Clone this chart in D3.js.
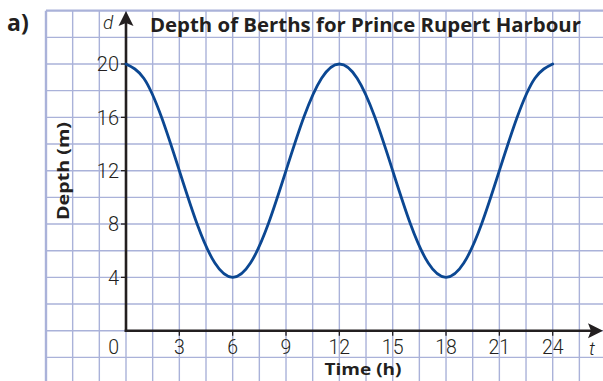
<!DOCTYPE html>
<html>
<head>
<meta charset="utf-8">
<script src="https://cdn.jsdelivr.net/npm/d3@7"></script>
<style>
  html, body { margin: 0; padding: 0; background: #fff; }
  svg { display: block; }
</style>
</head>
<body>
<svg id="chart" width="603" height="381"></svg>
<script>
// Hourly water depth readings (m) over a 24-hour day
const hours  = [0, 1, 2, 3, 4, 5, 6, 7, 8, 9, 10, 11, 12, 13, 14, 15, 16, 17, 18, 19, 20, 21, 22, 23, 24];
const depths = [20, 18.93, 16, 12, 8, 5.07, 4, 5.07, 8, 12, 16, 18.93, 20, 18.93, 16, 12, 8, 5.07, 4, 5.07, 8, 12, 16, 18.93, 20];

const xTicks = [3, 6, 9, 12, 15, 18, 21, 24];
const yTicks = [4, 8, 12, 16, 20];

const title = "Depth of Berths for Prince Rupert Harbour";

const W = 603, H = 381;
const svg = d3.select("#chart");

const x = d3.scaleLinear().domain([0, 24]).range([126, 552.7]);
const y = d3.scaleLinear().domain([0, 20]).range([330.7, 64]);

const gridColor = "#aab2d9";
const inkColor = "#231f20";
const lightFont = "Roboto, 'Open Sans', sans-serif";
const boldFont = "'Open Sans', Roboto, sans-serif";

// graph-paper grid: one square = 1.5 h by 2 m
const gridT = d3.range(-4.5, 27.01, 1.5);
const gridD = d3.range(-4, 24.01, 2);
const grid = svg.append("g");
grid.selectAll("line.v").data(gridT).join("line")
  .attr("x1", d => x(d)).attr("x2", d => x(d))
  .attr("y1", y(24)).attr("y2", H)
  .attr("stroke", gridColor)
  .attr("stroke-width", d => d === -4.5 ? 2.4 : 1.4);
grid.selectAll("line.h").data(gridD).join("line")
  .attr("y1", d => y(d)).attr("y2", d => y(d))
  .attr("x1", x(-4.5)).attr("x2", W)
  .attr("stroke", gridColor)
  .attr("stroke-width", d => d === 24 ? 2.4 : 1.4);

// axes
const axes = svg.append("g").attr("stroke", inkColor).attr("fill", "none");
axes.append("line")
  .attr("x1", x(0)).attr("x2", x(0))
  .attr("y1", y(0) + 1.4).attr("y2", 20)
  .attr("stroke-width", 2.6);
axes.append("line")
  .attr("x1", x(0) - 1.3).attr("x2", 592)
  .attr("y1", y(0)).attr("y2", y(0))
  .attr("stroke-width", 2.6);

// arrowheads
const ax0 = x(0), ay0 = y(0);
svg.append("path")
  .attr("d", `M${ax0},11 L${ax0 + 7.5},26 L${ax0},23 L${ax0 - 7.5},26 Z`)
  .attr("fill", inkColor);
svg.append("path")
  .attr("d", `M603,${ay0} L588,${ay0 - 7.5} L591,${ay0} L588,${ay0 + 7.5} Z`)
  .attr("fill", inkColor);

// tick marks
axes.selectAll("line.yt").data(yTicks).join("line")
  .attr("x1", ax0 - 5).attr("x2", ax0)
  .attr("y1", d => y(d)).attr("y2", d => y(d))
  .attr("stroke-width", 1.3);
axes.selectAll("line.xt").data(xTicks).join("line")
  .attr("x1", d => x(d)).attr("x2", d => x(d))
  .attr("y1", ay0).attr("y2", ay0 + 5)
  .attr("stroke-width", 1.3);

// tick labels
const labels = svg.append("g")
  .attr("font-family", lightFont)
  .attr("font-weight", 300)
  .attr("font-size", 20)
  .attr("fill", inkColor);
labels.selectAll("text.y").data(yTicks).join("text")
  .attr("x", ax0 - 7).attr("y", d => y(d) + 7.3)
  .attr("text-anchor", "end")
  .text(d => d);
labels.selectAll("text.x").data(xTicks).join("text")
  .attr("x", d => x(d)).attr("y", 354)
  .attr("text-anchor", "middle")
  .attr("font-size", 19.5)
  .text(d => d);
labels.append("text")
  .attr("x", ax0 - 7).attr("y", 354)
  .attr("text-anchor", "end")
  .attr("font-size", 19.5)
  .text(0);

// axis variable letters
svg.append("text")
  .attr("x", 103).attr("y", 29)
  .attr("font-family", lightFont).attr("font-weight", 300)
  .attr("font-style", "italic").attr("font-size", 19)
  .attr("fill", inkColor).text("d");
svg.append("text")
  .attr("x", 589).attr("y", 355)
  .attr("font-family", lightFont).attr("font-weight", 300)
  .attr("font-style", "italic").attr("font-size", 19)
  .attr("fill", inkColor).text("t");

// titles
svg.append("text")
  .attr("x", 150).attr("y", 32)
  .attr("font-family", boldFont).attr("font-weight", 700)
  .attr("font-size", 20)
  .attr("textLength", 431).attr("lengthAdjust", "spacingAndGlyphs")
  .attr("fill", inkColor).text(title);
svg.append("text")
  .attr("x", 7).attr("y", 31)
  .attr("font-family", boldFont).attr("font-weight", 700)
  .attr("font-size", 23)
  .attr("fill", inkColor).text("a)");
svg.append("text")
  .attr("transform", "translate(69,171) rotate(-90)")
  .attr("text-anchor", "middle")
  .attr("font-family", boldFont).attr("font-weight", 700)
  .attr("font-size", 16)
  .attr("textLength", 98).attr("lengthAdjust", "spacingAndGlyphs")
  .attr("fill", inkColor).text("Depth (m)");
svg.append("text")
  .attr("x", 363).attr("y", 375)
  .attr("text-anchor", "middle")
  .attr("font-family", boldFont).attr("font-weight", 700)
  .attr("font-size", 16.5)
  .attr("textLength", 77).attr("lengthAdjust", "spacingAndGlyphs")
  .attr("fill", inkColor).text("Time (h)");

// depth curve
const line = d3.line()
  .x((d, i) => x(hours[i]))
  .y(d => y(d))
  .curve(d3.curveNatural);
svg.append("path")
  .datum(depths)
  .attr("d", line)
  .attr("fill", "none")
  .attr("stroke", "#0b4792")
  .attr("stroke-width", 2.8)
  .attr("stroke-linecap", "round");
</script>
</body>
</html>
